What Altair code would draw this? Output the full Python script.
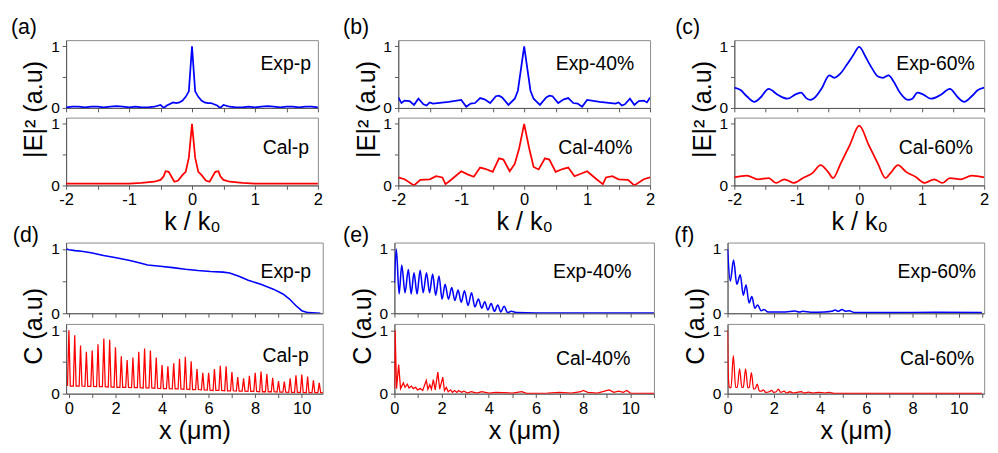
import altair as alt
import pandas as pd

FONT = "Liberation Sans"
BLUE = "#0000ff"
RED = "#ff0000"

# ---------------- tick values ----------------
K_TICKS = [-2, -1.5, -1, -0.5, 0, 0.5, 1, 1.5, 2]
X_TICKS_D = [0, 1, 2, 3, 4, 5, 6, 7, 8, 9, 10]
X_TICKS = [0, 1, 2, 3, 4, 5, 6, 7, 8, 9, 10, 11]
Y_TICKS = [0, 0.5, 1]

# ---------------- (a) ----------------
a_exp_k = [-2.0, -1.9, -1.8, -1.7, -1.6, -1.5, -1.4, -1.3, -1.2, -1.1, -1.0, -0.9, -0.8, -0.7, -0.6, -0.5,
           -0.45, -0.4, -0.3, -0.25, -0.2, -0.15, -0.1, -0.05, 0.0, 0.05, 0.1, 0.15, 0.2, 0.25, 0.3, 0.4,
           0.45, 0.5, 0.6, 0.7, 0.8, 0.9, 1.0, 1.1, 1.2, 1.3, 1.4, 1.5, 1.6, 1.7, 1.8, 1.9, 2.0]
a_exp_i = [0.01, 0.02, 0.02, 0.01, 0.02, 0.02, 0.01, 0.02, 0.03, 0.02, 0.01, 0.02, 0.01, 0.01, 0.02, 0.05,
           0.0, 0.04, 0.09, 0.08, 0.09, 0.12, 0.18, 0.27, 1.0, 0.27, 0.18, 0.12, 0.09, 0.08, 0.08, 0.04,
           0.0, 0.05, 0.02, 0.01, 0.01, 0.02, 0.01, 0.02, 0.03, 0.02, 0.01, 0.02, 0.02, 0.01, 0.02, 0.02, 0.01]
a_cal_k = [-2.0, -1.5, -1.0, -0.8, -0.6, -0.5, -0.45, -0.42, -0.37, -0.33, -0.28, -0.22, -0.15, -0.1, -0.05,
           0.0, 0.05, 0.1, 0.15, 0.22, 0.28, 0.33, 0.37, 0.42, 0.45, 0.5, 0.6, 0.8, 1.0, 1.5, 2.0]
a_cal_i = [0.03, 0.03, 0.03, 0.04, 0.06, 0.09, 0.15, 0.23, 0.22, 0.15, 0.06, 0.08, 0.17, 0.22, 0.45,
           1.0, 0.45, 0.22, 0.17, 0.08, 0.06, 0.15, 0.22, 0.23, 0.15, 0.09, 0.06, 0.04, 0.03, 0.03, 0.03]

# ---------------- (b) ----------------
b_exp_k = [-2.0, -1.95, -1.9, -1.82, -1.75, -1.68, -1.6, -1.55, -1.5, -1.45, -1.2, -1.0, -0.92, -0.85, -0.78,
           -0.7, -0.63, -0.54, -0.45, -0.4, -0.35, -0.25, -0.15, -0.1, 0.0, 0.1, 0.15, 0.25, 0.35, 0.4, 0.45,
           0.54, 0.63, 0.7, 0.78, 0.85, 0.92, 1.0, 1.2, 1.45, 1.5, 1.55, 1.6, 1.68, 1.75, 1.82, 1.9, 1.95, 2.0]
b_exp_i = [0.17, 0.08, 0.12, 0.11, 0.05, 0.15, 0.06, 0.04, 0.09, 0.07, 0.1, 0.13, 0.02, 0.07, 0.08,
           0.16, 0.14, 0.08, 0.19, 0.2, 0.17, 0.05, 0.15, 0.28, 1.0, 0.28, 0.15, 0.05, 0.17, 0.2, 0.19,
           0.08, 0.14, 0.16, 0.08, 0.07, 0.02, 0.13, 0.1, 0.07, 0.09, 0.04, 0.06, 0.15, 0.05, 0.11, 0.12, 0.09, 0.17]
b_cal_k = [-2.0, -1.9, -1.75, -1.65, -1.5, -1.4, -1.3, -1.25, -1.15, -1.0, -0.9, -0.8, -0.7, -0.62, -0.5,
           -0.4, -0.33, -0.23, -0.15, -0.08, 0.0, 0.08, 0.15, 0.23, 0.33, 0.4, 0.5, 0.62, 0.7, 0.8, 0.9,
           1.0, 1.15, 1.25, 1.3, 1.4, 1.5, 1.65, 1.75, 1.9, 2.0]
b_cal_i = [0.13, 0.1, 0.0, 0.09, 0.1, 0.15, 0.13, 0.02, 0.1, 0.23, 0.18, 0.14, 0.29, 0.27, 0.22,
           0.44, 0.42, 0.23, 0.35, 0.6, 1.0, 0.6, 0.3, 0.26, 0.44, 0.42, 0.22, 0.27, 0.29, 0.15, 0.19,
           0.23, 0.1, 0.02, 0.13, 0.15, 0.1, 0.09, 0.0, 0.1, 0.13]

# ---------------- (c) ----------------
c_exp_k = [-2.0, -1.9, -1.8, -1.68, -1.58, -1.45, -1.3, -1.15, -1.02, -0.93, -0.85, -0.78, -0.7, -0.6,
           -0.48, -0.4, -0.3, -0.2, -0.1, 0.0, 0.1, 0.2, 0.3, 0.38, 0.47, 0.55, 0.65, 0.78, 0.85, 0.93,
           1.02, 1.15, 1.3, 1.45, 1.58, 1.68, 1.8, 1.9, 2.0]
c_exp_i = [0.33, 0.29, 0.19, 0.1, 0.17, 0.31, 0.21, 0.15, 0.22, 0.25, 0.16, 0.13, 0.18, 0.32,
           0.53, 0.49, 0.56, 0.7, 0.85, 0.99, 0.83, 0.65, 0.51, 0.49, 0.53, 0.43, 0.25, 0.13, 0.15, 0.25,
           0.22, 0.15, 0.21, 0.31, 0.17, 0.1, 0.19, 0.29, 0.33]
c_cal_k = [-2.0, -1.8, -1.62, -1.45, -1.33, -1.2, -1.05, -0.9, -0.75, -0.62, -0.5, -0.42, -0.3, -0.15,
           0.0, 0.15, 0.3, 0.42, 0.5, 0.62, 0.75, 0.9, 1.05, 1.2, 1.33, 1.45, 1.62, 1.8, 2.0]
c_cal_i = [0.13, 0.16, 0.1, 0.12, 0.04, 0.1, 0.04, 0.12, 0.2, 0.33, 0.22, 0.12, 0.35, 0.66,
           0.97, 0.66, 0.35, 0.12, 0.2, 0.33, 0.22, 0.14, 0.04, 0.1, 0.04, 0.12, 0.1, 0.16, 0.13]

# ---------------- (d) ----------------
d_exp_x = [-0.1, 0.0, 0.27, 0.54, 0.95, 1.49, 2.03, 2.57, 2.97, 3.38, 3.92, 4.46, 5.0, 5.54, 6.08, 6.62,
           6.9, 7.3, 7.7, 8.24, 8.78, 9.19, 9.46, 9.73, 10.0, 10.27, 10.8]
d_exp_y = [1.0, 0.99, 0.975, 0.965, 0.94, 0.9, 0.865, 0.825, 0.79, 0.75, 0.73, 0.71, 0.685, 0.665, 0.65, 0.64,
           0.625, 0.575, 0.515, 0.45, 0.375, 0.3, 0.225, 0.125, 0.04, 0.01, 0.0]
d_cal_peak_x = [0.0, 0.25, 0.5, 0.75, 1.0, 1.25, 1.5, 1.75, 2.0, 2.25, 2.5, 2.75, 3.0, 3.25, 3.5, 3.75,
                4.0, 4.25, 4.5, 4.75, 5.0, 5.25, 5.5, 5.75, 6.0, 6.25, 6.5, 6.75, 7.0, 7.25, 7.5, 7.75,
                8.0, 8.25, 8.5, 8.75, 9.0, 9.25, 9.5, 9.75, 10.0, 10.25, 10.5, 10.75, 11.0]
d_cal_peak_y = [1.0, 0.92, 0.76, 0.66, 0.68, 0.78, 0.87, 0.85, 0.73, 0.59, 0.53, 0.57, 0.66, 0.71, 0.68,
                0.57, 0.45, 0.43, 0.48, 0.55, 0.58, 0.51, 0.39, 0.33, 0.33, 0.39, 0.44, 0.43, 0.34, 0.26,
                0.24, 0.28, 0.33, 0.35, 0.31, 0.25, 0.2, 0.19, 0.24, 0.29, 0.3, 0.27, 0.21, 0.17, 0.19]
d_cal_floor = [0.12, 0.12, 0.12, 0.115, 0.115, 0.11, 0.11, 0.105, 0.1, 0.1, 0.1, 0.095, 0.095, 0.09, 0.09,
               0.085, 0.08, 0.08, 0.075, 0.075, 0.07, 0.065, 0.065, 0.06, 0.055, 0.05, 0.05, 0.045, 0.045,
               0.04, 0.04, 0.035, 0.035, 0.03, 0.03, 0.03, 0.025, 0.025, 0.02, 0.02, 0.02, 0.015, 0.015,
               0.015, 0.015]
SPIKE_HALF_WIDTH = 0.06

# ---------------- (e) ----------------
e_exp_x = [0.0, 0.08, 0.2, 0.31, 0.45, 0.59, 0.71, 0.83, 0.96, 1.09, 1.22, 1.36, 1.49, 1.62, 1.75, 1.89,
           2.02, 2.15, 2.29, 2.43, 2.56, 2.7, 2.83, 2.97, 3.12, 3.27, 3.41, 3.56, 3.7, 3.83, 3.96, 4.1,
           4.24, 4.38, 4.51, 4.65, 4.8, 4.95, 5.2, 6.0, 7.0, 8.0, 9.0, 10.0, 11.0]
e_exp_y = [0.47, 1.0, 0.3, 0.75, 0.32, 0.68, 0.3, 0.63, 0.3, 0.67, 0.32, 0.63, 0.32, 0.61, 0.28, 0.58,
           0.22, 0.45, 0.22, 0.4, 0.2, 0.36, 0.17, 0.35, 0.12, 0.32, 0.1, 0.22, 0.08, 0.18, 0.05, 0.15,
           0.03, 0.13, 0.02, 0.11, 0.01, 0.03, 0.01, 0.005, 0.005, 0.005, 0.005, 0.005, 0.005]
e_cal_x = [0.0, 0.03, 0.09, 0.18, 0.26, 0.38, 0.45, 0.55, 0.62, 0.72, 0.8, 0.9, 0.98, 1.1, 1.2, 1.35,
           1.42, 1.5, 1.57, 1.65, 1.73, 1.84, 1.92, 2.05, 2.12, 2.2, 2.28, 2.38, 2.46, 2.55, 2.65, 2.72,
           2.85, 2.95, 3.1, 3.25, 3.5, 3.7, 4.0, 4.3, 5.0, 5.4, 5.6, 6.5, 7.0, 7.5, 7.9, 8.0, 8.2, 8.6,
           9.1, 9.3, 9.5, 9.7, 9.85, 10.0, 11.0]
e_cal_y = [0.08, 1.0, 0.08, 0.46, 0.08, 0.17, 0.1, 0.15, 0.09, 0.12, 0.08, 0.1, 0.06, 0.08, 0.05, 0.21,
           0.07, 0.14, 0.07, 0.22, 0.06, 0.34, 0.07, 0.26, 0.05, 0.1, 0.03, 0.06, 0.02, 0.05, 0.02, 0.05,
           0.02, 0.04, 0.01, 0.03, 0.01, 0.03, 0.01, 0.02, 0.01, 0.03, 0.005, 0.01, 0.02, 0.01, 0.03, 0.05,
           0.02, 0.01, 0.06, 0.02, 0.04, 0.02, 0.05, 0.01, 0.005]

# ---------------- (f) ----------------
f_exp_x = [0.0, 0.12, 0.26, 0.4, 0.55, 0.68, 0.8, 0.93, 1.05, 1.18, 1.3, 1.45, 1.58, 1.75, 2.0, 2.5,
           2.9, 3.1, 3.25, 3.6, 4.2, 4.5, 4.65, 4.8, 4.95, 5.1, 5.25, 5.5, 7.0, 9.0, 11.0]
f_exp_y = [1.0, 0.5, 0.83, 0.45, 0.6, 0.28, 0.44, 0.16, 0.26, 0.08, 0.13, 0.04, 0.06, 0.02, 0.02, 0.02,
           0.035, 0.02, 0.03, 0.015, 0.02, 0.03, 0.05, 0.03, 0.06, 0.03, 0.04, 0.01, 0.01, 0.015, 0.01]
f_cal_x = [0.0, 0.03, 0.08, 0.15, 0.25, 0.35, 0.42, 0.52, 0.62, 0.68, 0.78, 0.88, 0.94, 1.03, 1.13, 1.2,
           1.28, 1.38, 1.47, 1.55, 1.65, 1.8, 1.9, 2.0, 2.1, 2.2, 2.3, 2.45, 2.55, 2.7, 2.85, 3.0, 3.2,
           3.3, 3.5, 3.7, 3.95, 4.2, 4.4, 4.6, 11.0]
f_cal_y = [1.0, 0.3, 0.1, 0.09, 0.6, 0.1, 0.1, 0.39, 0.1, 0.1, 0.39, 0.09, 0.1, 0.33, 0.07, 0.08,
           0.15, 0.04, 0.04, 0.06, 0.02, 0.03, 0.05, 0.02, 0.03, 0.07, 0.02, 0.04, 0.01, 0.03, 0.01, 0.02,
           0.03, 0.01, 0.025, 0.01, 0.02, 0.01, 0.02, 0.005, 0.005]

# build the spiky (d) calculated trace from its read peaks and floors
d_cal_x, d_cal_y = [], []
for px, py, fl in zip(d_cal_peak_x, d_cal_peak_y, d_cal_floor):
    d_cal_x += [px - SPIKE_HALF_WIDTH, px, px + SPIKE_HALF_WIDTH]
    d_cal_y += [fl, py, fl]

YL = "datum.value === 0.5 ? '' : '' + datum.value"
KL = "datum.value % 1 === 0 ? '' + datum.value : ''"
XL = "datum.value % 2 === 0 ? '' + datum.value : ''"


def panel(x, y, color, label, lx, ly, xdom, xticks, xlab, xtitle, w, h, top,
          ytitle=None, tY=70, letter=None, ldx=0, loff=6, interp="linear", sw=1.8):
    df = pd.DataFrame(list(zip(x, y)), columns=["u", "v"])
    xs = alt.Scale(domain=xdom, nice=False, zero=False)
    ys = alt.Scale(domain=[0, 1.1], nice=False, zero=False)
    if top:
        xa = alt.Axis(values=xticks, labels=False, title=None, tickSize=4)
        ya = alt.Axis(values=Y_TICKS, labelExpr=YL, title=ytitle, titleX=-20, titleY=tY,
                      titleAngle=270, titleBaseline="bottom", tickSize=4, labelPadding=3,
                      labelFlush=False, labelFontSize=16)
    else:
        xa = alt.Axis(values=xticks, labelExpr=xlab, title=xtitle, tickSize=4, labelPadding=3,
                      titlePadding=2, labelFlush=False, labelOverlap=False)
        ya = alt.Axis(values=Y_TICKS, labelExpr=YL, title=None, tickSize=4, labelPadding=3,
                      labelFlush=False, labelFontSize=16)
    line = alt.Chart(df).mark_line(color=color, strokeWidth=sw, interpolate=interp, clip=True).encode(
        x=alt.X("u:Q", scale=xs, axis=xa),
        y=alt.Y("v:Q", scale=ys, axis=ya),
        order=alt.Order("u:Q"),
    )
    tdf = pd.DataFrame({"u": [lx], "v": [ly], "t": [label]})
    txt = alt.Chart(tdf).mark_text(align="right", baseline="middle", fontSize=20, font=FONT,
                                   color="black").encode(
        x=alt.X("u:Q", scale=xs, axis=xa),
        y=alt.Y("v:Q", scale=ys, axis=ya),
        text="t:N",
    )
    ch = alt.layer(line, txt).properties(width=w, height=h)
    if letter:
        ch = ch.properties(title=alt.TitleParams(letter, anchor="start", frame="group", dx=ldx,
                                                 offset=loff, baseline="alphabetic", fontSize=22,
                                                 fontWeight="normal", font=FONT, color="black"))
    return ch


KDOM = [-2, 2]
E2 = "|E|² (a.u)"
CT = "C (a.u)"
KT = "k / k₀"
XT = "x (μm)"
XDOM_D = [-0.12, 10.9]
XDOM_E = [0, 11]
XDOM_F = [0, 11.1]

a_top = panel(a_exp_k, a_exp_i, BLUE, "Exp-p", 1.89, 0.71, KDOM, K_TICKS, KL, KT, 260, 70, True,
              E2, 71, "(a)", -57, -17)
a_bot = panel(a_cal_k, a_cal_i, RED, "Cal-p", 1.86, 0.61, KDOM, K_TICKS, KL, KT, 260, 70, False)
b_top = panel(b_exp_k, b_exp_i, BLUE, "Exp-40%", 1.75, 0.71, KDOM, K_TICKS, KL, KT, 260, 70, True,
              E2, 71, "(b)", -57, -17)
b_bot = panel(b_cal_k, b_cal_i, RED, "Cal-40%", 1.72, 0.61, KDOM, K_TICKS, KL, KT, 260, 70, False)
c_top = panel(c_exp_k, c_exp_i, BLUE, "Exp-60%", 1.85, 0.71, KDOM, K_TICKS, KL, KT, 258, 70, True,
              E2, 71, "(c)", -61, -17, interp="monotone")
c_bot = panel(c_cal_k, c_cal_i, RED, "Cal-60%", 1.82, 0.61, KDOM, K_TICKS, KL, KT, 258, 70, False,
              interp="monotone")

d_top = panel(d_exp_x, d_exp_y, BLUE, "Exp-p", 10.4, 0.64, XDOM_D, X_TICKS_D, XL, XT, 265, 73,
              True, CT, 86, "(d)", -55, -23, sw=1.6)
d_bot = panel(d_cal_x, d_cal_y, RED, "Cal-p", 10.3, 0.59, XDOM_D, X_TICKS_D, XL, XT, 265, 72,
              False, sw=1.3)
e_top = panel(e_exp_x, e_exp_y, BLUE, "Exp-40%", 10.05, 0.64, XDOM_E, X_TICKS, XL, XT, 268, 73,
              True, CT, 86, "(e)", -53, -23, interp="monotone", sw=1.6)
e_bot = panel(e_cal_x, e_cal_y, RED, "Cal-40%", 10.0, 0.545, XDOM_E, X_TICKS, XL, XT, 268, 72,
              False, sw=1.3)
f_top = panel(f_exp_x, f_exp_y, BLUE, "Exp-60%", 10.75, 0.64, XDOM_F, X_TICKS, XL, XT, 265, 73,
              True, CT, 86, "(f)", -55, -23, interp="monotone", sw=1.6)
f_bot = panel(f_cal_x, f_cal_y, RED, "Cal-60%", 10.67, 0.545, XDOM_F, X_TICKS, XL, XT, 265, 72,
              False, interp="monotone", sw=1.3)

colA = alt.vconcat(a_top, a_bot, spacing=10, bounds="flush")
colB = alt.vconcat(b_top, b_bot, spacing=10, bounds="flush")
colC = alt.vconcat(c_top, c_bot, spacing=10, bounds="flush")
colD = alt.vconcat(d_top, d_bot, spacing=11, bounds="flush")
colE = alt.vconcat(e_top, e_bot, spacing=11, bounds="flush")
colF = alt.vconcat(f_top, f_bot, spacing=11, bounds="flush")

row1 = alt.hconcat(colA, colB, colC, spacing=19)
row2 = alt.hconcat(colD, colE, colF, spacing=19)

chart = alt.vconcat(row1, row2, spacing=-12).properties(
    padding={"left": 2, "top": 0, "right": 0, "bottom": 0}
).configure_view(
    stroke="#888888", strokeWidth=1
).configure_axis(
    domainColor="#555555", tickColor="#555555", labelFont=FONT, titleFont=FONT,
    labelFontSize=17, titleFontSize=26, titleFontWeight="normal", labelColor="#000000",
    titleColor="#000000", grid=False, domainWidth=1, tickWidth=1
)

chart.save("out.html", embed_options={"renderer": "svg", "actions": False})
